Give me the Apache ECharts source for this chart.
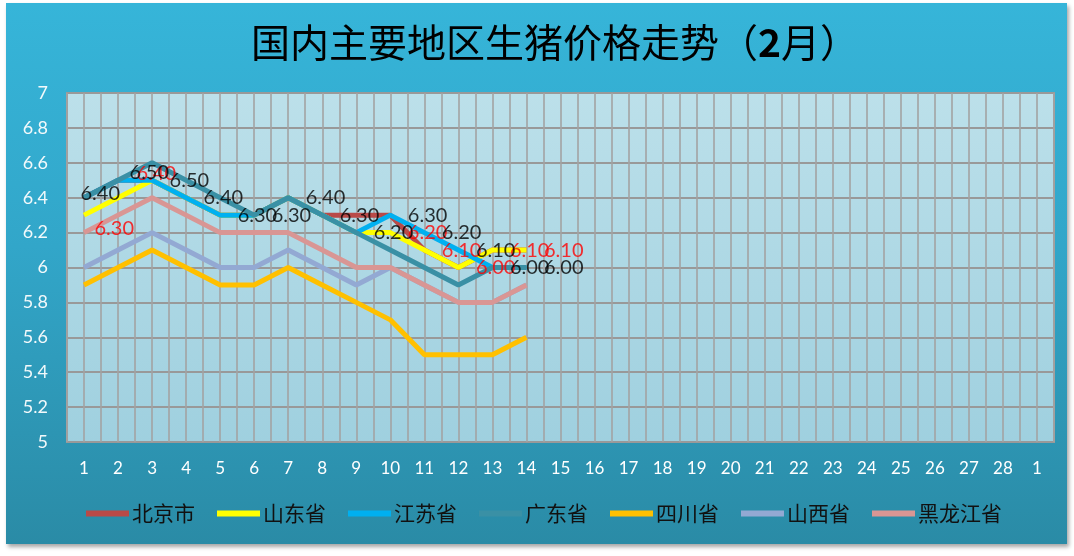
<!DOCTYPE html>
<html>
<head>
<meta charset="utf-8">
<script src="https://cdn.jsdelivr.net/npm/echarts@6/dist/echarts.min.js"></script>
<style>
html,body{margin:0;padding:0;background:#ffffff;width:1074px;height:556px;overflow:hidden;}
#frame{position:absolute;left:6px;top:3px;width:1061px;height:541px;
background:linear-gradient(to bottom,#36b5d9 0%,#32a6c9 45%,#2a8ba6 100%);
box-shadow:2px 3px 4px rgba(0,0,0,0.35);}
#chart{width:1061px;height:541px;}
</style>
</head>
<body>
<div id="frame"><div id="chart"></div></div>
<script>
// ---- data ----
const categories = ['1','2','3','4','5','6','7','8','9','10','11','12','13','14','15','16','17','18','19','20','21','22','23','24','25','26','27','28','1'];
const seriesNames = ['北京市','山东省','江苏省','广东省','四川省','山西省','黑龙江省'];
const beijing      = [6.4, 6.5, 6.5, 6.4, 6.3, 6.3, 6.4, 6.3, 6.3, 6.3, 6.1, 6.0, 6.1, 6.1];
const shandong     = [6.3, 6.4, 6.5, 6.4, 6.3, 6.3, 6.4, 6.3, 6.2, 6.2, 6.1, 6.0, 6.1, 6.1];
const jiangsu      = [6.4, 6.5, 6.5, 6.4, 6.3, 6.3, 6.4, 6.3, 6.2, 6.3, 6.2, 6.1, 6.0, 6.0];
const guangdong    = [6.4, 6.5, 6.6, 6.5, 6.4, 6.3, 6.4, 6.3, 6.2, 6.1, 6.0, 5.9, 6.0, 6.0];
const sichuan      = [5.9, 6.0, 6.1, 6.0, 5.9, 5.9, 6.0, 5.9, 5.8, 5.7, 5.5, 5.5, 5.5, 5.6];
const shanxi       = [6.0, 6.1, 6.2, 6.1, 6.0, 6.0, 6.1, 6.0, 5.9, 6.0, 5.9, 5.8, 5.8, 5.9];
const heilongjiang = [6.2, 6.3, 6.4, 6.3, 6.2, 6.2, 6.2, 6.1, 6.0, 6.0, 5.9, 5.8, 5.8, 5.9];
const yTicks = {min: 5, max: 7, interval: 0.2};

// ---- styles ----
const colors = ['#b94a48','#ffff00','#00b0f0','#3a90a5','#ffc000','#93a9d3','#d99694'];
const allSeries = [beijing, shandong, jiangsu, guangdong, sichuan, shanxi, heilongjiang];

// label adjustments (manually moved labels in the original)
const jsLabelAdjust = {0: {offset: [-21, -4]}, 1: {offset: [-6, -8]}};
const sdLabelAdjust = {0: {offset: [-7, 13]}, 1: {offset: [1, -24]}};
const sdHidden = [2,3,4,5,6,7,8];

function labelData(arr, adjust, hidden) {
  return arr.map((v, i) => {
    const item = {value: v};
    if (adjust && adjust[i]) item.label = adjust[i];
    if (hidden && hidden.indexOf(i) >= 0) item.label = {show: false};
    return item;
  });
}

const chart = echarts.init(document.getElementById('chart'), null, {renderer: 'canvas'});

const lineSeries = seriesNames.map((n, i) => ({
  name: n,
  type: 'line',
  data: allSeries[i],
  symbol: 'none',
  color: colors[i],
  lineStyle: {width: 5, color: colors[i]},
  z: 2,
  animation: false
}));

const labelBase = {
  show: true,
  position: 'right',
  distance: 17,
  fontFamily: 'Lato',
  fontSize: 20,
  formatter: p => Number(p.value).toFixed(2)
};

const labelSeries = [
  {
    type: 'scatter', name: 'sd-label', data: labelData(shandong, sdLabelAdjust, sdHidden),
    symbolSize: 1, itemStyle: {color: 'rgba(0,0,0,0)'}, z: 10, silent: true,
    label: Object.assign({}, labelBase, {color: '#ff0000'}), animation: false
  },
  {
    type: 'scatter', name: 'js-label', data: labelData(jiangsu, jsLabelAdjust, null),
    symbolSize: 1, itemStyle: {color: 'rgba(0,0,0,0)'}, z: 11, silent: true,
    label: Object.assign({}, labelBase, {color: '#000000'}), animation: false
  }
];

chart.setOption({
  animation: false,
  backgroundColor: 'transparent',
  title: {
    text: '{a|国内主要地区生猪价格走势（}{b|2}{a|月）}',
    left: 240,
    top: 15,
    textStyle: {
      rich: {
        a: {fontFamily: 'Noto Sans CJK SC', fontSize: 39, color: '#000', fontWeight: 'normal'},
        b: {fontFamily: 'Noto Sans CJK SC', fontSize: 39, color: '#000', fontWeight: 'bold'}
      }
    }
  },
  legend: {
    data: seriesNames,
    bottom: 15,
    left: 75,
    icon: 'rect',
    itemWidth: 43,
    itemHeight: 6,
    itemGap: 22,
    textStyle: {fontFamily: 'Noto Sans CJK SC', fontSize: 21, color: '#111', padding: [0, 0, 0, -2]}
  },
  grid: {
    left: 61, top: 90, right: 13, bottom: 102,
    show: true,
    borderColor: '#9a9a9a', borderWidth: 2,
    backgroundColor: {type: 'linear', x: 0, y: 0, x2: 0, y2: 1,
      colorStops: [{offset: 0, color: '#bce0ea'}, {offset: 1, color: '#9fd0df'}]}
  },
  xAxis: [
    {
      type: 'category',
      data: categories,
      boundaryGap: true,
      axisLine: {show: false},
      axisTick: {show: false},
      splitLine: {show: false},
      axisLabel: {color: '#ffffff', fontFamily: 'Lato', fontSize: 17, margin: 18, interval: 0}
    },
    {
      type: 'value',
      min: 0, max: 58, interval: 1,
      position: 'bottom',
      axisLine: {show: false}, axisTick: {show: false}, axisLabel: {show: false},
      splitLine: {show: true, lineStyle: {color: '#a3a3a3', width: 1.6}}
    }
  ],
  yAxis: {
    type: 'value',
    min: yTicks.min, max: yTicks.max, interval: yTicks.interval,
    axisLine: {show: false},
    axisTick: {show: false},
    axisLabel: {color: '#f2f9fb', fontFamily: 'Lato', fontSize: 18, margin: 19},
    splitLine: {show: true, lineStyle: {color: '#999999', width: 2}}
  },
  series: lineSeries.concat(labelSeries)
});
</script>
</body>
</html>
